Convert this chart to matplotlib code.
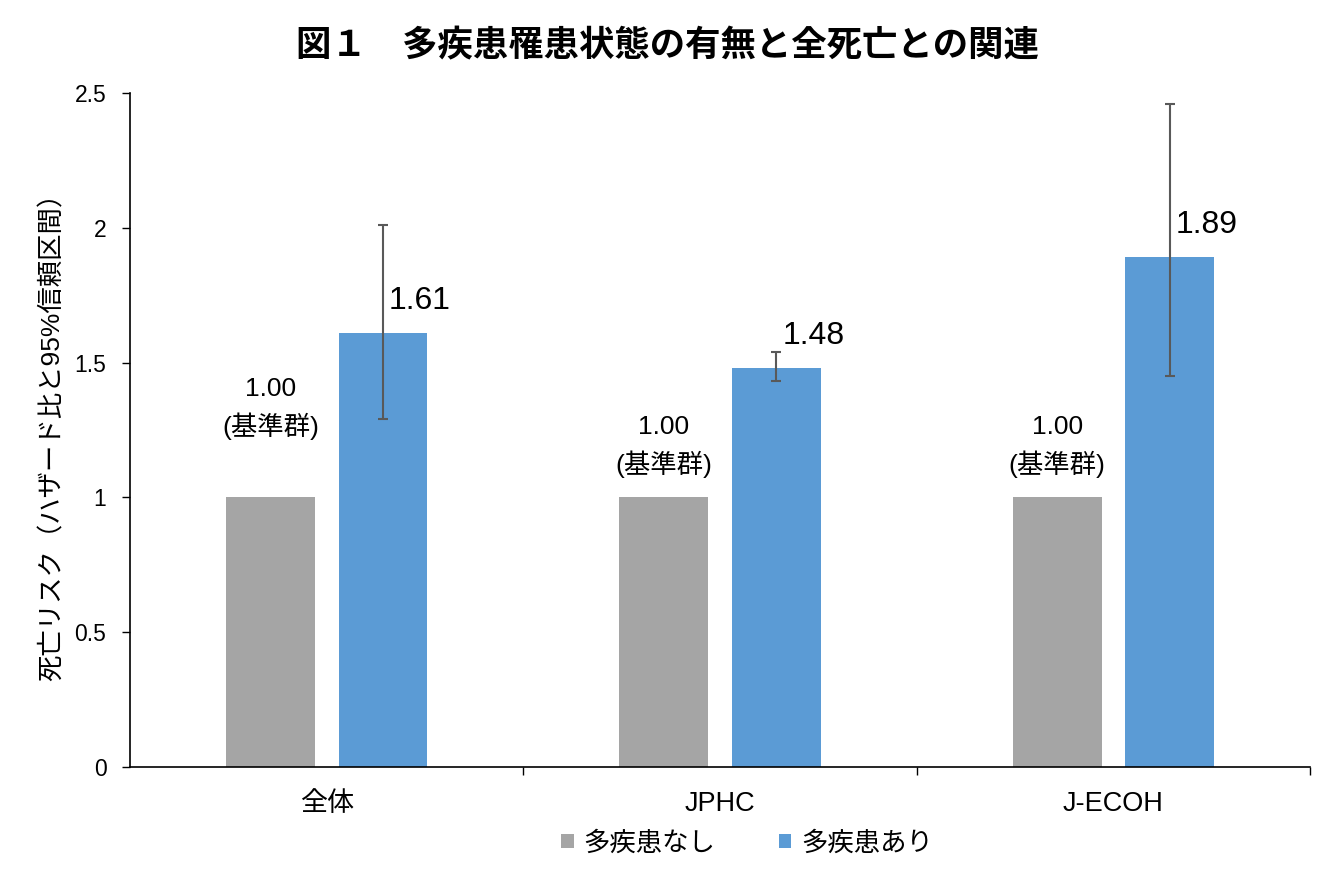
import numpy as np
import matplotlib.pyplot as plt
from matplotlib.ticker import FuncFormatter, FixedLocator

plt.rcParams['font.family'] = ['Liberation Sans', 'Noto Sans CJK JP', 'DejaVu Sans']

# データ ======================================================================
categories = ['全体', 'JPHC', 'J-ECOH']
series_names = ['多疾患なし', '多疾患あり']
base_hr = [1.00, 1.00, 1.00]          # 多疾患なし (基準群)
multi_hr = [1.61, 1.48, 1.89]         # 多疾患あり
multi_lo = [1.29, 1.43, 1.45]         # 95%信頼区間 下限
multi_hi = [2.01, 1.54, 2.46]         # 95%信頼区間 上限
yticks = [0, 0.5, 1, 1.5, 2, 2.5]

gray = '#A5A5A5'
blue = '#5B9BD5'

fig = plt.figure(figsize=(13.34, 8.89), dpi=100)
ax = fig.add_axes([0.0975, 0.1372, 0.8845, 0.7582])

x = np.arange(len(categories))
w = 0.226
off = 0.143
b1 = ax.bar(x - off, base_hr, w, color=gray, label=series_names[0])
b2 = ax.bar(x + off, multi_hr, w, color=blue, label=series_names[1])

err = [np.array(multi_hr) - np.array(multi_lo), np.array(multi_hi) - np.array(multi_hr)]
ax.errorbar(x + off, multi_hr, yerr=err, fmt='none', ecolor='#595959',
            elinewidth=1.5, capsize=3.3, capthick=1.5)

# ラベル
base_ly = [1.33, 1.19, 1.19]
for i in range(len(categories)):
    ax.text(x[i] - off, base_ly[i], '%.2f\n(基準群)' % base_hr[i], ha='center',
            va='center', fontsize=19, linespacing=1.5)
val_ly = [1.73, 1.60, 2.01]
for i in range(len(categories)):
    ax.text(x[i] + off + 0.015, val_ly[i], '%.2f' % multi_hr[i], ha='left',
            va='center', fontsize=23)

ax.set_xlim(-0.5, 2.5)
ax.set_ylim(0, 2.5)
ax.yaxis.set_major_locator(FixedLocator(yticks))
ax.yaxis.set_major_formatter(FuncFormatter(lambda v, p: '%g' % v))
ax.tick_params(axis='y', labelsize=16.5, length=6, width=1, direction='out', pad=11)

ax.set_xticks(x)
ax.set_xticklabels(categories, fontsize=19.5)
ax.set_xticks([0.5, 1.5, 2.5], minor=True)
ax.tick_params(axis='x', which='major', length=0, pad=17)
ax.tick_params(axis='x', which='minor', length=6, width=1, direction='out')

for s in ['top', 'right']:
    ax.spines[s].set_visible(False)
ax.spines['left'].set_linewidth(1.2)
ax.spines['bottom'].set_linewidth(1.2)

ax.set_ylabel('死亡リスク（ハザード比と95%信頼区間）', fontsize=19, labelpad=7)

fig.suptitle('図１　多疾患罹患状態の有無と全死亡との関連', fontsize=25.5,
             fontweight='bold', y=0.948, va='center')

ax.legend(handles=[b1, b2], loc='center', bbox_to_anchor=(0.523, -0.113),
          ncol=2, frameon=False, fontsize=19, handlelength=0.46,
          handleheight=0.46, handletextpad=0.38, columnspacing=2.4)

fig.savefig('out.png', dpi=100)
